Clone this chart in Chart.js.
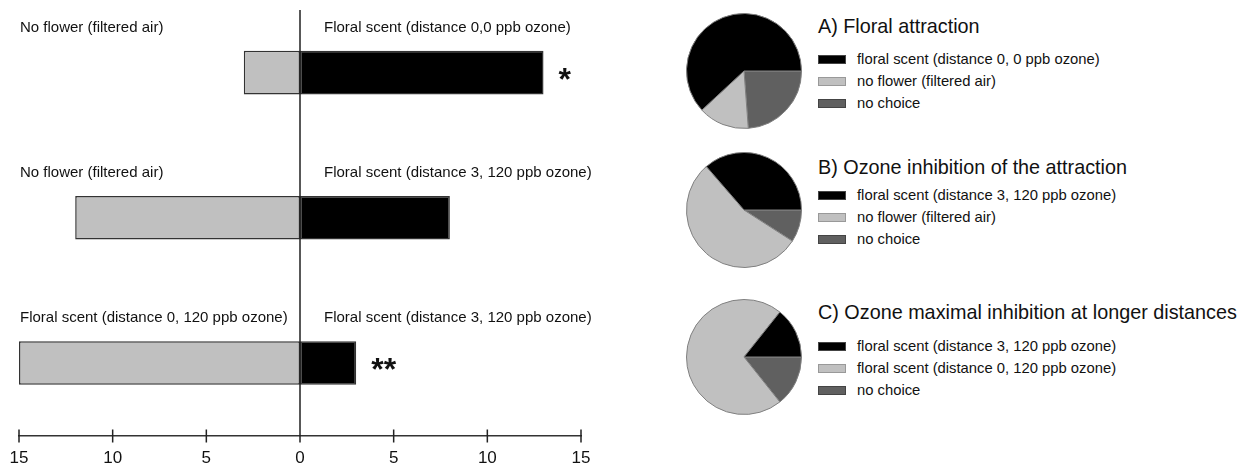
<!DOCTYPE html>
<html>
<head>
<meta charset="utf-8">
<script src="https://cdn.jsdelivr.net/npm/chart.js@4.4.1/dist/chart.umd.min.js"></script>
<style>
  body { margin:0; background:#fff; }
  #wrap { position:relative; width:1240px; height:468px; overflow:hidden; font-family:'Liberation Sans', Arial, sans-serif; color:#111; }
  #barChart { position:absolute; left:0; top:0; }
  .pie { position:absolute; left:686px; }
  .legend { position:absolute; left:818px; white-space:nowrap; }
  .legend .title { position:absolute; left:0; font-size:19.8px; line-height:22px; }
  .legend .item { position:absolute; left:0; display:flex; align-items:center; font-size:14.8px; line-height:22px; }
  .legend .swatch { width:28px; height:9px; margin-right:11px; box-sizing:border-box; border:1px solid #444; }
</style>
</head>
<body>
<div id="wrap">
  <canvas id="barChart" width="620" height="482"></canvas>
</div>
<script>
// ---- data ----
const rowKeys     = ['A', 'B', 'C'];
const leftLabels  = ['No flower (filtered air)', 'No flower (filtered air)', 'Floral scent (distance 0, 120 ppb ozone)'];
const rightLabels = ['Floral scent (distance 0,0 ppb ozone)', 'Floral scent (distance 3, 120 ppb ozone)', 'Floral scent (distance 3, 120 ppb ozone)'];
const leftCounts  = [3, 12, 15];
const rightCounts = [13, 8, 3];
const noChoice    = [5, 2, 3];
const signif      = ['*', '', '**'];
const xTicks      = [-15, -10, -5, 0, 5, 10, 15];

const pieTitles = ['A) Floral attraction', 'B) Ozone inhibition of the attraction', 'C) Ozone maximal inhibition at longer distances'];
const pieLabels = [
  ['floral scent (distance 0, 0 ppb ozone)', 'no flower (filtered air)', 'no choice'],
  ['floral scent (distance 3, 120 ppb ozone)', 'no flower (filtered air)', 'no choice'],
  ['floral scent (distance 3, 120 ppb ozone)', 'floral scent (distance 0, 120 ppb ozone)', 'no choice']
];
const sliceColors = ['#000000', '#c0c0c0', '#606060'];

// ---- layout (pixels) ----
const pieTops    = [13, 152, 299];
const titleTops  = [15, 156, 301];
const itemTops   = [48, 184, 335];
const FONT = "'Liberation Sans', Arial, sans-serif";

// ---- bar chart ----
const annot = {
  id: 'annot',
  afterDatasetsDraw(chart) {
    const { ctx, chartArea } = chart;
    const x = chart.scales.x;
    const x0 = x.getPixelForValue(0);
    const bottom = chartArea.bottom;
    ctx.save();
    ctx.strokeStyle = '#222';
    ctx.lineWidth = 1.5;
    ctx.beginPath();
    ctx.moveTo(x0, 10);
    ctx.lineTo(x0, bottom + 7);
    xTicks.forEach(v => {
      const px = x.getPixelForValue(v);
      ctx.moveTo(px, bottom - 6);
      ctx.lineTo(px, bottom + 7);
    });
    ctx.stroke();

    ctx.fillStyle = '#111';
    ctx.textBaseline = 'middle';
    ctx.textAlign = 'left';
    const leftMeta = chart.getDatasetMeta(0).data;
    const rightMeta = chart.getDatasetMeta(1).data;
    rowKeys.forEach((k, i) => {
      const bar = leftMeta[i];
      const top = bar.y - bar.height / 2;
      ctx.font = '15px ' + FONT;
      ctx.fillText(leftLabels[i], x.left + 1, top - 23);
      ctx.fillText(rightLabels[i], x0 + 24, top - 23);
      if (signif[i]) {
        ctx.font = 'bold 32px ' + FONT;
        ctx.textBaseline = 'alphabetic';
        ctx.fillText(signif[i], rightMeta[i].x + 15, bar.y + 17);
        ctx.textBaseline = 'middle';
      }
    });
    ctx.restore();
  }
};

new Chart(document.getElementById('barChart'), {
  type: 'bar',
  data: {
    labels: rowKeys,
    datasets: [
      {
        label: 'left',
        data: leftCounts.map(v => -v),
        backgroundColor: '#c0c0c0',
        borderColor: '#333',
        borderWidth: 1.5,
        borderSkipped: false,
        barPercentage: 0.3,
        categoryPercentage: 1
      },
      {
        label: 'right',
        data: rightCounts,
        backgroundColor: '#000',
        borderColor: '#333',
        borderWidth: 1.5,
        borderSkipped: false,
        barPercentage: 0.3,
        categoryPercentage: 1
      }
    ]
  },
  options: {
    indexAxis: 'y',
    responsive: false,
    animation: false,
    layout: { padding: { left: 19, right: 39, top: 0, bottom: 0 } },
    plugins: { legend: { display: false }, tooltip: { enabled: false } },
    scales: {
      x: {
        stacked: true, min: -15, max: 15,
        afterBuildTicks: s => { s.ticks = xTicks.map(v => ({ value: v })); },
        afterFit: s => { s.paddingLeft = 0; s.paddingRight = 0; },
        ticks: { callback: v => Math.abs(v), color: '#111', font: { family: FONT, size: 17 }, padding: 13, maxRotation: 0 },
        grid: { display: false, drawTicks: false },
        border: { display: true, color: '#333', width: 1.5 }
      },
      y: { stacked: true, display: false }
    }
  },
  plugins: [annot]
});

// ---- pies + legends ----
const wrap = document.getElementById('wrap');
pieTitles.forEach((title, i) => {
  const cv = document.createElement('canvas');
  cv.className = 'pie';
  cv.width = 116; cv.height = 116;
  cv.style.top = pieTops[i] + 'px';
  wrap.appendChild(cv);

  // drawn clockwise from 3 o'clock, so order is reversed
  const values = [rightCounts[i], leftCounts[i], noChoice[i]];
  new Chart(cv, {
    type: 'pie',
    data: {
      labels: pieLabels[i].slice().reverse(),
      datasets: [{
        data: values.slice().reverse(),
        backgroundColor: sliceColors.slice().reverse(),
        borderColor: '#808080',
        borderWidth: 1
      }]
    },
    options: {
      responsive: false,
      animation: false,
      rotation: 90,
      plugins: { legend: { display: false }, tooltip: { enabled: false } }
    }
  });

  const lg = document.createElement('div');
  lg.className = 'legend';
  lg.style.top = '0px';
  const t = document.createElement('div');
  t.className = 'title';
  t.style.top = titleTops[i] + 'px';
  t.textContent = title;
  lg.appendChild(t);
  pieLabels[i].forEach((lab, j) => {
    const it = document.createElement('div');
    it.className = 'item';
    it.style.top = (itemTops[i] + j * 22) + 'px';
    const sw = document.createElement('span');
    sw.className = 'swatch';
    sw.style.background = sliceColors[j];
    if (j === 1) sw.style.borderColor = '#999';
    it.appendChild(sw);
    it.appendChild(document.createTextNode(lab));
    lg.appendChild(it);
  });
  wrap.appendChild(lg);
});
</script>
</body>
</html>
